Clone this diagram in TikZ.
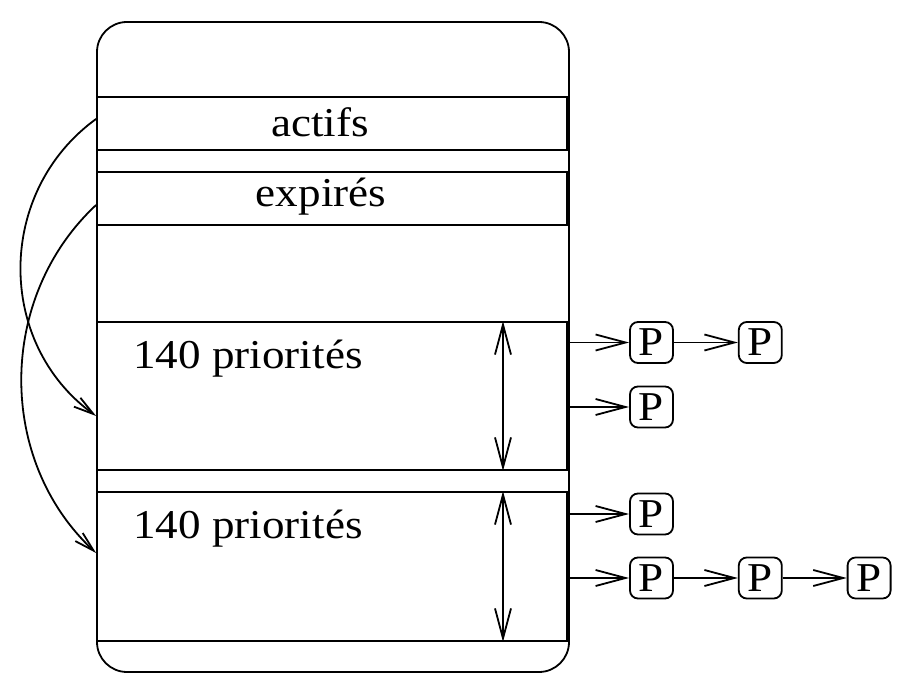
\documentclass[tikz,border=0pt]{standalone}
\usepackage{fontspec}
\setmainfont{Liberation Serif}[FakeStretch=1.1]
\usetikzlibrary{arrows.meta,positioning}

\tikzset{
  slot/.style={draw,line width=0.9pt,minimum width=235pt,inner sep=0pt},
  proc/.style={draw,line width=0.9pt,rounded corners=4pt,minimum width=21.5pt,minimum height=20.5pt,inner sep=0pt},
  barb/.style={line width=0.9pt,-{Straight Barb[length=15pt,width=8pt]}},
  dbarb/.style={line width=0.9pt,{Straight Barb[length=15pt,width=8pt]}-{Straight Barb[length=15pt,width=8pt]}},
  cbarb/.style={line width=0.9pt,-{Straight Barb[length=10pt,width=5.5pt]}},
}

\begin{document}
\begin{tikzpicture}[x=0.5pt,y=0.5pt,font=\fontsize{20.5}{24}\selectfont]
\useasboundingbox (0,0) rectangle (912,692);
% the whole table
\node[draw,line width=0.9pt,rounded corners=15pt,minimum width=236pt,minimum height=325pt] (table) at (333,345) {};
\node[slot,minimum height=26.5pt] (actifs) at (332,568.25) {};
\node[slot,minimum height=26.5pt] (expires) at (332,493.5) {};
\node[slot,minimum height=74pt] (prio1) at (332,296) {};
\node[slot,minimum height=74.5pt] (prio2) at (332,125.5) {};
\node[anchor=base] (tactifs) at (320,555) {actifs};
\node[anchor=base] (texpires) at (321,485) {expirés};
\node[anchor=base west,inner sep=0pt] (tprio1) at (133,323) {140 priorités};
\node[anchor=base west,inner sep=0pt] (tprio2) at (133,153) {140 priorités};
% sizes
\draw[dbarb] ([xshift=85.5pt]prio1.north) -- ([xshift=85.5pt]prio1.south);
\draw[dbarb] ([xshift=85.5pt]prio2.north) -- ([xshift=85.5pt]prio2.south);
% pointers
\draw[cbarb] ([yshift=2.4pt]actifs.west) to[out=216,in=144,looseness=1.07] ([yshift=-10pt]prio1.west);
\draw[cbarb] ([yshift=-3.25pt]expires.west) to[out=223,in=137] ([yshift=6.75pt]prio2.west);
% process lists
\node[proc] (p11) at (651.5,349.5) {P};
\node[proc,right=32pt of p11] (p12) {P};
\node[proc] (p21) at (651.5,285) {P};
\node[proc] (p31) at (651.5,178) {P};
\node[proc] (p41) at (651.5,114) {P};
\node[proc,right=32pt of p41] (p42) {P};
\node[proc,right=32pt of p42] (p43) {P};
\draw[barb] (p11.west -| table.east) -- (p11);
\draw[barb] (p21.west -| table.east) -- (p21);
\draw[barb] (p31.west -| table.east) -- (p31);
\draw[barb] (p41.west -| table.east) -- (p41);
\draw[barb] (p11) -- (p12);
\draw[barb] (p41) -- (p42);
\draw[barb] (p42) -- (p43);
\end{tikzpicture}
\end{document}
